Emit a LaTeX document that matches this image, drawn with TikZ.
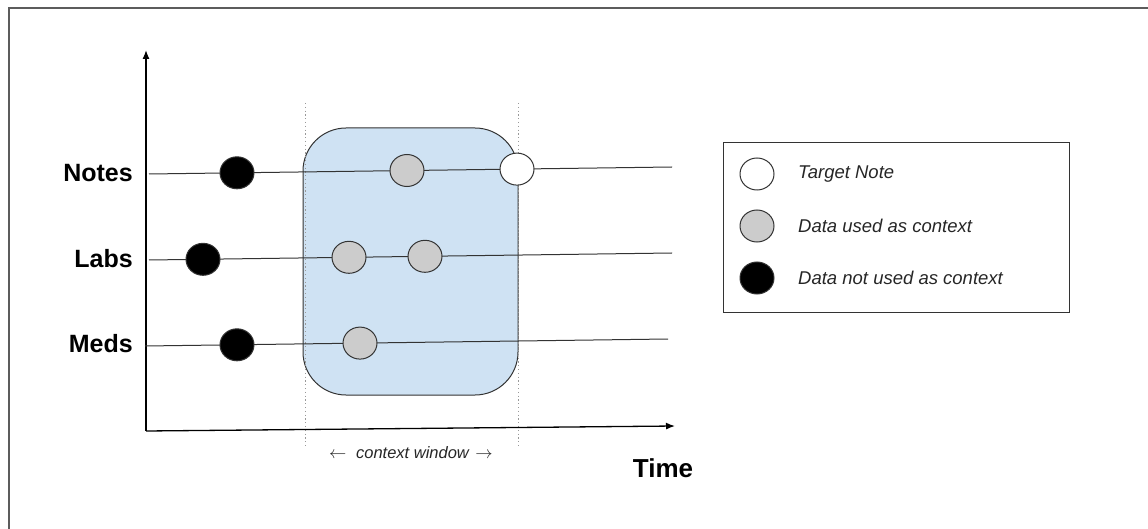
\documentclass[tikz,border=0pt]{standalone}
\usepackage{fontspec}
\setmainfont{Liberation Sans}
\usetikzlibrary{arrows.meta,shapes.geometric}
\definecolor{winblue}{HTML}{CFE2F3}
\definecolor{dotgray}{HTML}{CCCCCC}
\definecolor{edge}{HTML}{333333}
\definecolor{guide}{HTML}{999999}
\tikzset{
  ev/.style={ellipse,draw=edge,line width=1pt,minimum width=34pt,minimum height=32pt,inner sep=0pt},
  evblack/.style={ev,fill=black},
  evgray/.style={ev,fill=dotgray},
  evwhite/.style={ev,fill=white},
  series/.style={draw=edge,line width=1pt},
  axis/.style={draw=black,line width=1.3pt,-{Latex[length=9pt,width=7pt]}},
  guideline/.style={draw=guide,line width=1pt,dash pattern=on 1.2pt off 2.6pt},
  rowlabel/.style={font=\fontsize{25}{30}\selectfont\bfseries,anchor=east,inner sep=0pt},
  legtext/.style={font=\fontsize{18.5}{22}\selectfont\itshape,anchor=west,inner sep=0pt,text=black!85},
}
\begin{document}
\begin{tikzpicture}[x=1pt,y=-1pt]
\useasboundingbox (0,0) rectangle (1148,529);
% frame
\draw[edge!80,line width=1.2pt] (9,529) -- (9,8) -- (1148,8);

% context window box
\node[draw=edge,line width=1pt,fill=winblue,rounded corners=43pt,minimum width=215pt,minimum height=267pt,inner sep=0pt] (window) at (410.5,261.5) {};

% dotted guides
\coordinate (gl1) at (305,103);
\coordinate (gl2) at (305,447);
\coordinate (gr1) at (518,103);
\coordinate (gr2) at (518,447);
\draw[guideline] (gl1) -- (gl2);
\draw[guideline] (gr1) -- (gr2);

% axes
\coordinate (origin) at (146,431);
\coordinate (ytip) at (146,50);
\coordinate (xtip) at (675,426);
\draw[axis] (origin) -- (ytip);
\draw[axis] (origin) -- (xtip);

% series lines
\coordinate (ns) at (149,174);
\coordinate (ne) at (672,167);
\coordinate (ls) at (149,260);
\coordinate (le) at (672,253);
\coordinate (ms) at (145,346);
\coordinate (me) at (668,339);
\draw[series] (ns) -- (ne);
\draw[series] (ls) -- (le);
\draw[series] (ms) -- (me);

% row labels
\node[rowlabel] (notes) at (133,173) {Notes};
\node[rowlabel] (labs) at (133,259) {Labs};
\node[rowlabel] (meds) at (133,344) {Meds};

% events
\node[evblack] (n1) at (237,172.8) {};
\node[evgray]  (n2) at (407,170.5) {};
\node[evwhite] (n3) at (517,169.1) {};
\node[evblack] (l1) at (203,259.3) {};
\node[evgray]  (l2) at (349,257.3) {};
\node[evgray]  (l3) at (425,256.3) {};
\node[evblack] (m1) at (237,344.8) {};
\node[evgray]  (m2) at (360,343.1) {};

% axis labels
\node[font=\fontsize{16.5}{20}\selectfont\itshape,text=black!85,inner sep=0pt] (ctx) at (411,453) {$\leftarrow$\hspace{5pt} context window\hspace{2pt} $\rightarrow$};
\node[font=\fontsize{26}{30}\selectfont\bfseries,inner sep=0pt] (time) at (663,468) {Time};

% legend
\node[draw=edge,line width=1pt,minimum width=346pt,minimum height=169pt,inner sep=0pt] (legend) at (896,227.5) {};
\node[evwhite] (k1) at (757,174) {};
\node[evgray]  (k2) at (757,226) {};
\node[evblack] (k3) at (757,278) {};
\node[legtext] (t1) at (798,174) {Target Note};
\node[legtext] (t2) at (798,226) {Data used as context};
\node[legtext] (t3) at (798,278) {Data not used as context};
\end{tikzpicture}
\end{document}
